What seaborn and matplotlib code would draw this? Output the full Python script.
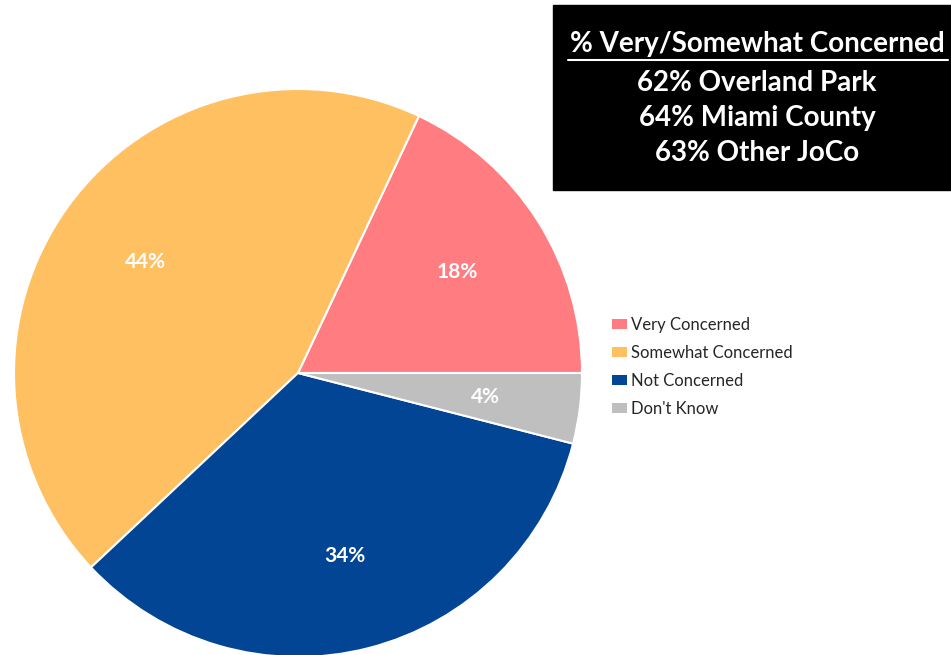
import matplotlib
matplotlib.use("Agg")
import matplotlib.pyplot as plt
import seaborn as sns

categories = ["Very Concerned", "Somewhat Concerned", "Not Concerned", "Don't Know"]
shares = [18, 44, 34, 4]
slice_colors = ["#FF7C80", "#FFC062", "#034595", "#BFBFBF"]

box_title = "% Very/Somewhat Concerned"
box_lines = ["62% Overland Park", "64% Miami County", "63% Other JoCo"]

sns.set_theme(style="white")
plt.rcParams['font.family'] = ['Lato', 'DejaVu Sans']

W, H = 951, 655
fig = plt.figure(figsize=(W / 100, H / 100), dpi=100)
ax = fig.add_axes([0, 0, 1, 1])

palette = sns.color_palette(slice_colors)
wedges, texts, autotexts = ax.pie(
    shares, colors=palette, startangle=0, counterclock=True,
    center=(298, H - 373), radius=284, frame=True,
    autopct="%d%%", pctdistance=0.665,
    wedgeprops=dict(edgecolor="white", linewidth=1.5),
    textprops=dict(color="white", fontsize=15, fontweight="bold"))
ax.set_xlim(0, W)
ax.set_ylim(0, H)
ax.set_aspect("equal")
ax.axis("off")

# black callout box
ax.add_patch(plt.Rectangle((553, H - 190), 400, 185, color="black", zorder=5))
ax.text(757, H - 44, box_title, color="white", fontsize=20, fontweight="bold",
        ha="center", va="center", zorder=6)
ax.plot([568, 948], [H - 60, H - 60], color="white", lw=1.5, zorder=6)
for i, line in enumerate(box_lines):
    ax.text(757, H - 83 - i * 35, line, color="white", fontsize=20,
            fontweight="bold", ha="center", va="center", zorder=6)

leg = ax.legend(wedges, categories, loc="upper left",
                bbox_to_anchor=(597 / W, 1 - 302 / H), bbox_transform=fig.transFigure,
                frameon=False, fontsize=12, handlelength=0.9, handleheight=0.55,
                handletextpad=0.25, labelspacing=0.72)
for t in leg.get_texts():
    t.set_color("#262626")
for h in leg.legend_handles:
    h.set_edgecolor("none")

fig.savefig("out.png", dpi=100)
